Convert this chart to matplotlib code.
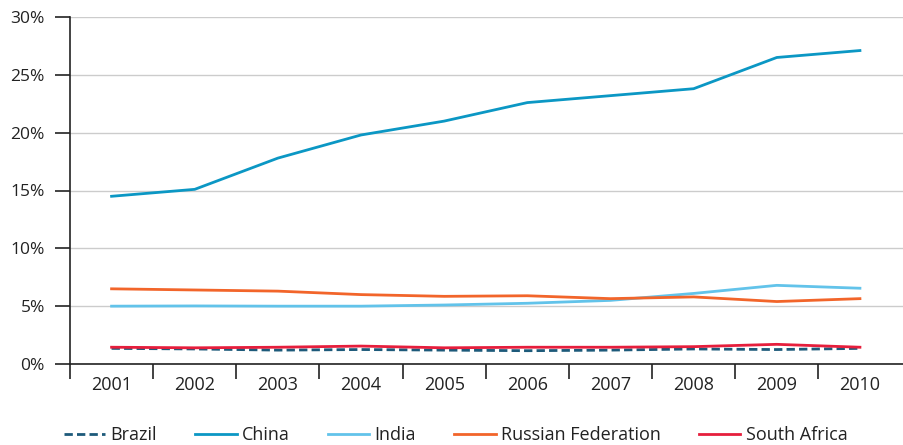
import matplotlib
matplotlib.use("Agg")
import matplotlib.pyplot as plt
from matplotlib.ticker import FixedLocator, FuncFormatter

years = ["2001", "2002", "2003", "2004", "2005", "2006", "2007", "2008", "2009", "2010"]
brazil = [1.35, 1.3, 1.2, 1.25, 1.2, 1.15, 1.2, 1.3, 1.25, 1.35]
china = [14.5, 15.1, 17.8, 19.8, 21.0, 22.6, 23.2, 23.8, 26.5, 27.1]
india = [5.0, 5.02, 5.0, 5.0, 5.1, 5.25, 5.5, 6.1, 6.8, 6.55]
russia = [6.5, 6.4, 6.3, 6.0, 5.85, 5.9, 5.65, 5.8, 5.4, 5.65]
south_africa = [1.45, 1.4, 1.45, 1.55, 1.4, 1.45, 1.45, 1.5, 1.7, 1.45]

plt.rcParams['font.family'] = ['Open Sans', 'DejaVu Sans']

fig = plt.figure(figsize=(9.04, 4.45), dpi=100)
ax = fig.add_axes([70 / 904, 1 - 364 / 445, 834 / 904, 347 / 445])

x = list(range(len(years)))
ax.plot(x, brazil, color="#1d5a7a", lw=2, ls=(0, (3, 1.5)), label="Brazil")
ax.plot(x, china, color="#0b97c4", lw=2, label="China")
ax.plot(x, india, color="#62c3ea", lw=2, label="India")
ax.plot(x, russia, color="#f2652a", lw=2, label="Russian Federation")
ax.plot(x, south_africa, color="#e61e3c", lw=2, label="South Africa")

ax.set_xlim(-0.5, len(years) - 0.5 + 0.03)
ax.set_ylim(0, 30)
ax.set_yticks(range(0, 31, 5))
ax.yaxis.set_major_formatter(FuncFormatter(lambda v, p: f"{int(v)}%"))
ax.yaxis.grid(True, color="#cccccc", lw=1)
ax.set_axisbelow(True)

ax.set_xticks(x)
ax.set_xticklabels(years)
ax.xaxis.set_minor_locator(FixedLocator([i - 0.5 for i in range(len(years))]))
ax.tick_params(axis="x", which="major", length=0, pad=9, labelsize=13, colors="#222222")
ax.tick_params(axis="x", which="minor", length=10.5, width=1.2, color="#222222")
ax.tick_params(axis="y", length=11, width=1.2, color="#222222", labelsize=12.5, labelcolor="#222222", pad=7)

for s in ["top", "right"]:
    ax.spines[s].set_visible(False)
for s in ["left", "bottom"]:
    ax.spines[s].set_color("#222222")
    ax.spines[s].set_linewidth(1.2)

fig.legend(loc="lower center", bbox_to_anchor=(0.504, -0.035), ncol=5, frameon=False,
           fontsize=13, handlelength=2.3, columnspacing=2.1, handletextpad=0.3,
           labelcolor="#222222")

fig.savefig("out.png", dpi=100)
